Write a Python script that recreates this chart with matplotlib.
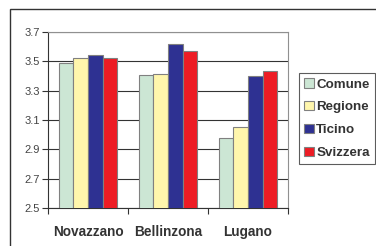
import numpy as np
import matplotlib.pyplot as plt
from matplotlib.patches import Rectangle

plt.rcParams["font.family"] = ["Liberation Sans", "DejaVu Sans"]

categories = ["Novazzano", "Bellinzona", "Lugano"]
series = ["Comune", "Regione", "Ticino", "Svizzera"]
comune = [3.49, 3.41, 2.98]
regione = [3.525, 3.415, 3.052]
ticino = [3.54, 3.615, 3.402]
svizzera = [3.525, 3.568, 3.432]
colors = ["#cce6d4", "#fff6ac", "#2e3192", "#ed1c24"]

W, H = 376, 246
fig = plt.figure(figsize=(W / 100, H / 100), dpi=100)
ax = fig.add_axes([48 / W, 1 - 208 / H, 240 / W, 176 / H])

x = np.arange(len(categories))
bw = 0.183
for i, (name, vals) in enumerate(zip(series, [comune, regione, ticino, svizzera])):
    ax.bar(x + (i - 1.5) * bw, vals, width=bw, color=colors[i],
           edgecolor="#808080", linewidth=0.8, label=name, zorder=3)

ax.set_ylim(2.5, 3.7)
ax.set_xlim(-0.5, 2.5)
ax.set_yticks(np.arange(2.5, 3.71, 0.2))
ax.set_yticklabels(["%.1f" % v for v in np.arange(2.5, 3.71, 0.2)],
                   fontsize=8, color="#444444")
ax.yaxis.grid(True, color="#333333", linewidth=0.8, zorder=0)
ax.set_xticks([-0.5, 0.5, 1.5, 2.5])
ax.set_xticklabels([])
ax.set_xticks(x, minor=True)
ax.set_xticklabels(categories, minor=True, fontsize=9.8, fontweight="bold", color="#333333")
ax.tick_params(axis="x", which="minor", length=0, pad=12)
ax.tick_params(axis="x", which="major", length=4, color="#333333", direction="out")
ax.tick_params(axis="y", length=4, color="#333333", pad=2)
for s in ["top", "right"]:
    ax.spines[s].set_color("#909090")
for s in ["left", "bottom"]:
    ax.spines[s].set_color("#333333")

leg = ax.legend(loc="upper left", bbox_to_anchor=(299 / W, 1 - 73 / H), bbox_transform=fig.transFigure,
                frameon=True, fancybox=False, edgecolor="#333333", handlelength=0.7, handleheight=0.7,
                handletextpad=0.2, labelspacing=0.78, borderpad=0.4, borderaxespad=0,
                prop={"weight": "bold", "size": 9.6})
leg.get_frame().set_linewidth(0.8)
for t in leg.get_texts():
    t.set_color("#333333")

fig.add_artist(Rectangle((10 / W, -0.1), 1.2, 1 - 9 / H + 0.1, transform=fig.transFigure,
                         fill=False, edgecolor="#333333", linewidth=1.0))

fig.savefig("out.png", dpi=100)
